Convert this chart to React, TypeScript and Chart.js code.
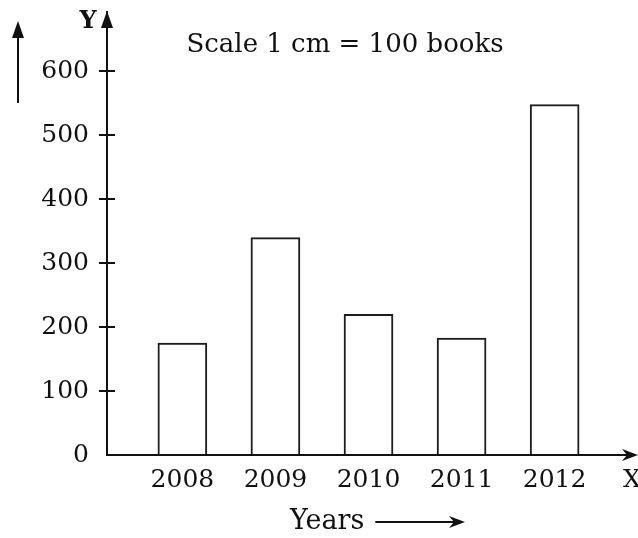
import React, { useEffect, useRef } from "react";
import { Chart, registerables } from "chart.js";

Chart.register(...registerables);

const years = [2008, 2009, 2010, 2011, 2012];
const books = [175, 340, 220, 183, 548];
const yTicks = [0, 100, 200, 300, 400, 500, 600];
const titleText = "Scale 1 cm = 100 books";
const xTitle = "Years";

const FONT = "'DejaVu Serif', serif";
const INK = "#111111";

const decorPlugin = {
  id: "decor",
  afterDraw(chart: any) {
    const { ctx, chartArea } = chart;
    const y = chart.scales.y;
    const { left, right, top, bottom } = chartArea;
    ctx.save();
    ctx.strokeStyle = INK;
    ctx.fillStyle = INK;
    ctx.lineWidth = 2;
    // inner halves of y tick marks
    yTicks.forEach((v) => {
      if (v === 0) return;
      const py = Math.round(y.getPixelForValue(v));
      ctx.beginPath();
      ctx.moveTo(left, py);
      ctx.lineTo(left + 8, py);
      ctx.stroke();
    });
    // y axis arrowhead
    ctx.beginPath();
    ctx.moveTo(left, top - 1);
    ctx.lineTo(left - 6, top + 16);
    ctx.lineTo(left + 6, top + 16);
    ctx.closePath();
    ctx.fill();
    // x axis extension + arrowhead
    ctx.beginPath();
    ctx.moveTo(right, bottom);
    ctx.lineTo(right + 4, bottom);
    ctx.stroke();
    ctx.beginPath();
    ctx.moveTo(right + 8, bottom);
    ctx.lineTo(right - 8, bottom - 6);
    ctx.lineTo(right - 3, bottom);
    ctx.lineTo(right - 8, bottom + 6);
    ctx.closePath();
    ctx.fill();
    // left decorative arrow
    const ax = left - 89;
    ctx.beginPath();
    ctx.moveTo(ax, top + 91);
    ctx.lineTo(ax, top + 20);
    ctx.stroke();
    ctx.beginPath();
    ctx.moveTo(ax, top + 9);
    ctx.lineTo(ax - 6, top + 26);
    ctx.lineTo(ax + 6, top + 26);
    ctx.closePath();
    ctx.fill();
    // labels
    ctx.font = `bold 24px ${FONT}`;
    ctx.textAlign = "center";
    ctx.textBaseline = "middle";
    ctx.fillText("Y", left - 19, top + 10);
    ctx.font = `25px ${FONT}`;
    ctx.fillText("X", right + 2, bottom + 25);
    // title
    ctx.font = `26px ${FONT}`;
    ctx.fillText(titleText, left + 238, top + 33);
    // x title with arrow
    ctx.font = `27px ${FONT}`;
    ctx.textAlign = "left";
    const tx = left + 183;
    const ty = bottom + 67;
    ctx.fillText(xTitle, tx, ty);
    const w = ctx.measureText(xTitle).width;
    const a0 = tx + w + 11;
    const a1 = tx + 175;
    ctx.beginPath();
    ctx.moveTo(a0, ty);
    ctx.lineTo(a1 - 6, ty);
    ctx.stroke();
    ctx.beginPath();
    ctx.moveTo(a1, ty);
    ctx.lineTo(a1 - 16, ty - 6);
    ctx.lineTo(a1 - 11, ty);
    ctx.lineTo(a1 - 16, ty + 6);
    ctx.closePath();
    ctx.fill();
    ctx.restore();
  },
};

export default function App() {
  const ref = useRef<HTMLCanvasElement>(null);
  useEffect(() => {
    if (!ref.current) return;
    const chart = new Chart(ref.current, {
      type: "bar",
      data: {
        datasets: [
          {
            data: years.map((yr, i) => ({ x: yr, y: books[i] })),
            backgroundColor: "#ffffff",
            borderColor: "#1c1c1c",
            borderWidth: 2,
            borderSkipped: "bottom",
            barThickness: 49,
          },
        ],
      },
      options: {
        responsive: false,
        animation: false,
        layout: { padding: { top: 12, right: 8, left: 0, bottom: 0 } },
        plugins: {
          legend: { display: false },
          tooltip: { enabled: false },
          title: { display: false },
        },
        scales: {
          x: {
            type: "linear",
            offset: false,
            min: 2007.19,
            max: 2012.81,
            afterBuildTicks: (s: any) => {
              s.ticks = years.map((v) => ({ value: v }));
            },
            afterFit: (s: any) => {
              s.height = 83;
              s.paddingLeft = 0;
              s.paddingRight = 0;
            },
            grid: { display: false, drawTicks: false, offset: false },
            border: { display: true, color: INK, width: 2 },
            ticks: {
              padding: 10,
              color: INK,
              font: { family: FONT, size: 25 },
              maxRotation: 0,
              callback: (v: any) => String(v),
            },
          },
          y: {
            type: "linear",
            min: 0,
            max: 693,
            afterBuildTicks: (s: any) => {
              s.ticks = yTicks.map((v) => ({ value: v }));
            },
            afterFit: (s: any) => {
              s.width = 107;
              s.paddingTop = 0;
              s.paddingBottom = 0;
            },
            grid: {
              drawOnChartArea: false,
              drawTicks: true,
              tickLength: 8,
              lineWidth: 2,
              color: (c: any) => (c.tick && c.tick.value === 0 ? "rgba(0,0,0,0)" : INK),
            },
            border: { display: true, color: INK, width: 2 },
            ticks: {
              padding: 10,
              color: INK,
              font: { family: FONT, size: 25 },
              callback: (v: any) => String(v),
            },
          },
        },
      },
      plugins: [decorPlugin],
    });
    return () => chart.destroy();
  }, []);
  return (
    <div style={{ position: "fixed", left: 0, top: 0, width: 638, height: 538, background: "#fff" }}>
      <canvas ref={ref} width={638} height={538} style={{ display: "block" }} />
    </div>
  );
}
